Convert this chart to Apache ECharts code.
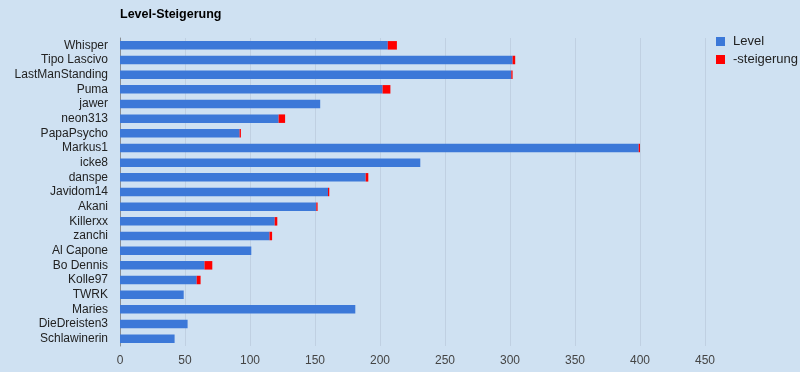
<!DOCTYPE html>
<html>
<head>
<meta charset="utf-8">
<script src="https://cdn.jsdelivr.net/npm/echarts@6/dist/echarts.min.js"></script>
<style>
html,body{margin:0;padding:0;background:#cfe1f2;}
#chart{width:800px;height:372px;}
</style>
</head>
<body>
<div id="chart"></div>
<script>
const categories = ["Whisper","Tipo Lascivo","LastManStanding","Puma","jawer","neon313","PapaPsycho","Markus1","icke8","danspe","Javidom14","Akani","Killerxx","zanchi","Al Capone","Bo Dennis","Kolle97","TWRK","Maries","DieDreisten3","Schlawinerin"];
const levelValues = [206,302,301,202,154,122,92,399,231,189,160,151,119,115,101,65,59,49,181,52,42];
const steigerungValues = [7,2,1,6,0,5,1,1,0,2,1,1,2,2,0,6,3,0,0,0,0];
const xTicks = [0,50,100,150,200,250,300,350,400,450];

const chart = echarts.init(document.getElementById('chart'));
chart.setOption({
  backgroundColor: '#cfe1f2',
  animation: false,
  title: {
    text: 'Level-Steigerung',
    left: 115, top: 3,
    textStyle: {fontFamily: 'Arial, Liberation Sans, sans-serif', fontSize: 12.5, fontWeight: 'bold', color: '#000'}
  },
  legend: {
    orient: 'vertical',
    left: 711, top: 30,
    itemWidth: 9, itemHeight: 9, itemGap: 5,
    icon: 'rect',
    textStyle: {fontFamily: 'Arial, Liberation Sans, sans-serif', fontSize: 13, color: '#222', padding: [0,0,0,3]},
    data: ['Level','-steigerung']
  },
  grid: {left: 120, right: 95, top: 38, bottom: 26, containLabel: false},
  xAxis: {
    type: 'value', min: xTicks[0], max: xTicks[xTicks.length-1], interval: 50,
    axisLine: {show: false}, axisTick: {show: false},
    axisLabel: {fontFamily: 'Arial, Liberation Sans, sans-serif', fontSize: 12, color: '#444', margin: 9},
    splitLine: {show: true, lineStyle: {color: '#c0d0e2', width: 1}}
  },
  yAxis: {
    type: 'category', data: categories, inverse: true,
    axisLine: {show: true, lineStyle: {color: '#8a8f96', width: 1}},
    axisTick: {show: false},
    axisLabel: {fontFamily: 'Arial, Liberation Sans, sans-serif', fontSize: 12, color: '#222', margin: 12, interval: 0}
  },
  series: [
    {name: 'Level', type: 'bar', stack: 's', data: levelValues, barWidth: '58%',
     itemStyle: {color: '#3c78d8'}},
    {name: '-steigerung', type: 'bar', stack: 's', data: steigerungValues, barWidth: '58%',
     itemStyle: {color: '#ff0000'}}
  ]
});
</script>
</body>
</html>
